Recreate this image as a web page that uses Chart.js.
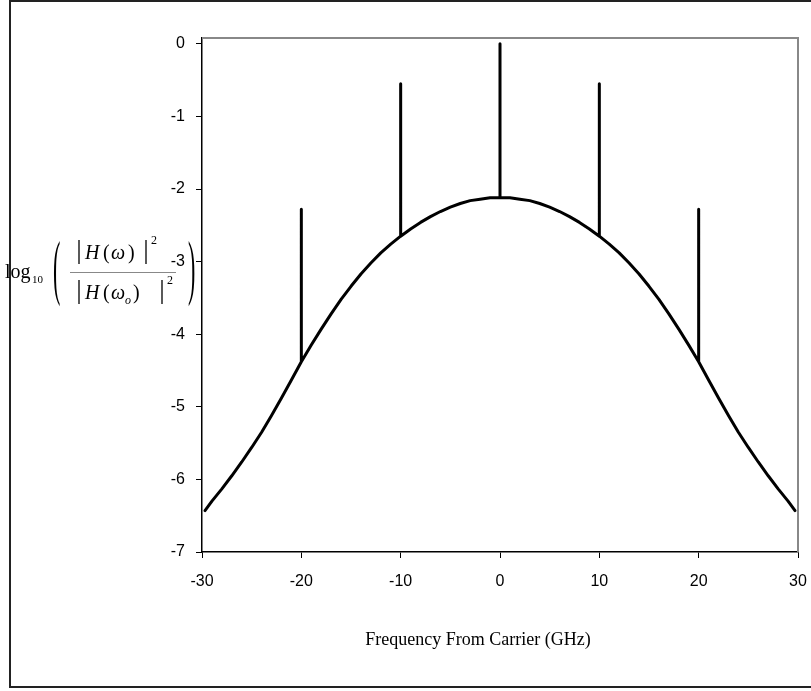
<!DOCTYPE html>
<html><head><meta charset="utf-8">
<script src="https://cdn.jsdelivr.net/npm/chart.js@4/dist/chart.umd.min.js"></script>
<style>html,body{margin:0;padding:0;background:#fff;}#wrap{width:811px;height:691px;position:relative}</style>
</head><body><div id="wrap"><canvas id="c" width="811" height="691"></canvas></div>
<script>
// Frequency from carrier (GHz) for the smooth envelope
const freqCurve = [-29.7,-29,-28,-27,-26,-25,-24,-23,-22,-21,-20,-19,-18,-17,-16,-15,-14,-13,-12,-11,-10,-9,-8,-7,-6,-5,-4,-3,-2,-1,0,1,2,3,4,5,6,7,8,9,10,11,12,13,14,15,16,17,18,19,20,21,22,23,24,25,26,27,28,29,29.7];
// log10(|H(w)|^2/|H(wo)|^2) envelope
const logCurve = [-6.43,-6.30,-6.13,-5.95,-5.76,-5.56,-5.35,-5.12,-4.88,-4.63,-4.38,-4.15,-3.93,-3.72,-3.52,-3.34,-3.17,-3.02,-2.88,-2.76,-2.65,-2.55,-2.46,-2.38,-2.31,-2.25,-2.20,-2.16,-2.14,-2.12,-2.12,-2.12,-2.14,-2.16,-2.20,-2.25,-2.31,-2.38,-2.46,-2.55,-2.65,-2.76,-2.88,-3.02,-3.17,-3.34,-3.52,-3.72,-3.93,-4.15,-4.38,-4.63,-4.88,-5.12,-5.35,-5.56,-5.76,-5.95,-6.13,-6.30,-6.43];
// spectral lines
const spikeFreq = [-20,-10,0,10,20];
const spikeTop = [-2.28,-0.55,0,-0.55,-2.28];
const xTicks = [-30,-20,-10,0,10,20,30];
const yTicks = [-7,-6,-5,-4,-3,-2,-1,0];

const pts = [];
freqCurve.forEach((f,i)=>{
  pts.push({x:f,y:logCurve[i]});
  const k = spikeFreq.indexOf(f);
  if(k>=0){ pts.push({x:f,y:spikeTop[k]}); pts.push({x:f,y:logCurve[i]}); }
});

const framePlugin = {
  id:'frame',
  beforeDraw(chart){
    const c = chart.ctx; c.save();
    c.fillStyle='#fff'; c.fillRect(0,0,chart.width,chart.height);
    c.strokeStyle='#222'; c.lineWidth=2;
    c.strokeRect(10,1,820,686);
    c.restore();
  },
  afterDraw(chart){
    const c = chart.ctx, a = chart.chartArea; c.save();
    c.strokeStyle='#888'; c.lineWidth=2;
    c.beginPath(); c.moveTo(a.left, a.top); c.lineTo(a.right, a.top); c.lineTo(a.right, a.bottom); c.stroke();
    c.fillStyle='#000';
    // x title
    c.font='18px "Liberation Serif"'; c.textAlign='center'; c.textBaseline='middle';
    c.fillText('Frequency From Carrier (GHz)', 478, 640);
    // y title
    c.textAlign='left'; c.textBaseline='alphabetic';
    c.font='20px "Liberation Serif"'; c.fillText('log', 5, 278);
    c.font='11px "Liberation Serif"'; c.fillText('10', 32, 283);
    const paren = (ch,x)=>{ c.save(); c.translate(x,272); c.scale(1,3.3); c.font='22px "Liberation Serif"'; c.textBaseline='middle'; c.fillText(ch,0,0); c.restore(); };
    paren('(',53); paren(')',188);
    const bar = (x,yc)=>{ c.save(); c.lineWidth=1.3; c.strokeStyle='#000'; c.beginPath(); c.moveTo(x,yc-12); c.lineTo(x,yc+12); c.stroke(); c.restore(); };
    // numerator
    bar(79,252); bar(146,252);
    c.font='italic 20px "Liberation Serif"'; c.fillText('H', 85, 259);
    c.font='20px "Liberation Serif"'; c.fillText('(', 103, 259);
    c.font='italic 20px "Liberation Serif"'; c.fillText('ω', 111, 259);
    c.font='20px "Liberation Serif"'; c.fillText(')', 128, 259);
    c.font='12px "Liberation Serif"'; c.fillText('2', 151, 244);
    // fraction line
    c.lineWidth=1; c.beginPath(); c.moveTo(70,272.5); c.lineTo(176,272.5); c.stroke();
    // denominator
    bar(79,292); bar(162,292);
    c.font='italic 20px "Liberation Serif"'; c.fillText('H', 85, 299);
    c.font='20px "Liberation Serif"'; c.fillText('(', 103, 299);
    c.font='italic 20px "Liberation Serif"'; c.fillText('ω', 111, 299);
    c.font='italic 12px "Liberation Serif"'; c.fillText('o', 125, 304);
    c.font='20px "Liberation Serif"'; c.fillText(')', 133, 299);
    c.font='12px "Liberation Serif"'; c.fillText('2', 167, 284);
    c.restore();
  }
};

new Chart(document.getElementById('c'), {
  type:'scatter',
  data:{datasets:[{data:pts, showLine:true, borderColor:'#000', borderWidth:3, pointRadius:0, tension:0, borderJoinStyle:'round', borderCapStyle:'round', clip:false}]},
  options:{
    responsive:false, animation:false, devicePixelRatio:1,
    layout:{padding:{left:0, top:38, right:13, bottom:0}},
    plugins:{legend:{display:false}, tooltip:{enabled:false}},
    scales:{
      x:{type:'linear', min:-30, max:30,
        afterBuildTicks:s=>{s.ticks = xTicks.map(v=>({value:v}));},
        afterFit:s=>{s.height=139; s.paddingLeft=0; s.paddingRight=0;},
        grid:{drawOnChartArea:false, tickLength:6, color:'#000', lineWidth:1},
        border:{color:'#000', width:1.5},
        ticks:{color:'#000', font:{family:'Liberation Sans', size:16}, padding:14, maxRotation:0, autoSkip:false}},
      y:{type:'linear', min:-7, max:0.08,
        afterBuildTicks:s=>{s.ticks = yTicks.map(v=>({value:v}));},
        afterFit:s=>{s.width=202; s.paddingTop=0; s.paddingBottom=0;},
        grid:{drawOnChartArea:false, tickLength:6, color:'#000', lineWidth:1},
        border:{color:'#000', width:1.5},
        ticks:{color:'#000', font:{family:'Liberation Sans', size:16}, padding:11, autoSkip:false}}
    }
  },
  plugins:[framePlugin]
});
</script></body></html>
